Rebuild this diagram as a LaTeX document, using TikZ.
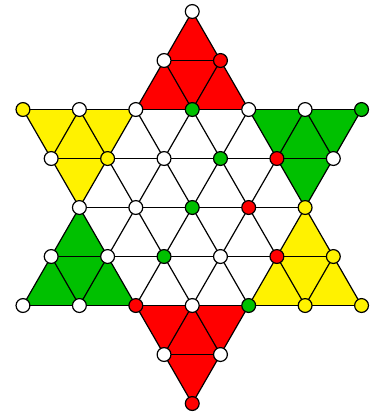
\documentclass[tikz,border=0pt]{standalone}
\usepackage{tikz}
\usetikzlibrary{backgrounds}
\definecolor{boardgreen}{RGB}{0,192,0}

\begin{document}
\begin{tikzpicture}
	[x=21.19pt,y=36.8pt,
	 hole/.style={circle,draw=black,line width=0.9pt,inner sep=0pt,minimum size=10.4pt,fill=white},
	 redhole/.style={hole,fill=red},
	 greenhole/.style={hole,fill=boardgreen},
	 yellowhole/.style={hole,fill=yellow},
	 grid/.style={line width=0.9pt}]
	\useasboundingbox (-6.814,0.235) rectangle (6.531,-8.316);

	% holes, row by row from the top
	\node[hole] (a0) at (0,0) {};
	\node[hole] (b1) at (-1,-1) {};
	\node[redhole] (b2) at (1,-1) {};
	\node[yellowhole] (c1) at (-6,-2) {};
	\node[hole] (c2) at (-4,-2) {};
	\node[hole] (c3) at (-2,-2) {};
	\node[greenhole] (c4) at (0,-2) {};
	\node[hole] (c5) at (2,-2) {};
	\node[hole] (c6) at (4,-2) {};
	\node[greenhole] (c7) at (6,-2) {};
	\node[hole] (d1) at (-5,-3) {};
	\node[yellowhole] (d2) at (-3,-3) {};
	\node[hole] (d3) at (-1,-3) {};
	\node[greenhole] (d4) at (1,-3) {};
	\node[redhole] (d5) at (3,-3) {};
	\node[hole] (d6) at (5,-3) {};
	\node[hole] (e1) at (-4,-4) {};
	\node[hole] (e2) at (-2,-4) {};
	\node[greenhole] (e3) at (0,-4) {};
	\node[redhole] (e4) at (2,-4) {};
	\node[yellowhole] (e5) at (4,-4) {};
	\node[hole] (f1) at (-5,-5) {};
	\node[hole] (f2) at (-3,-5) {};
	\node[greenhole] (f3) at (-1,-5) {};
	\node[hole] (f4) at (1,-5) {};
	\node[redhole] (f5) at (3,-5) {};
	\node[yellowhole] (f6) at (5,-5) {};
	\node[hole] (g1) at (-6,-6) {};
	\node[hole] (g2) at (-4,-6) {};
	\node[redhole] (g3) at (-2,-6) {};
	\node[hole] (g4) at (0,-6) {};
	\node[greenhole] (g5) at (2,-6) {};
	\node[yellowhole] (g6) at (4,-6) {};
	\node[yellowhole] (g7) at (6,-6) {};
	\node[hole] (h1) at (-1,-7) {};
	\node[hole] (h2) at (1,-7) {};
	\node[redhole] (i1) at (0,-8) {};

	\begin{scope}[on background layer]
	% coloured corners of the star
	\fill[red] (a0.center) -- (c3.center) -- (c5.center) -- cycle;
	\fill[red] (g3.center) -- (g5.center) -- (i1.center) -- cycle;
	\fill[yellow] (c1.center) -- (c3.center) -- (e1.center) -- cycle;
	\fill[yellow] (e5.center) -- (g5.center) -- (g7.center) -- cycle;
	\fill[boardgreen] (c5.center) -- (c7.center) -- (e5.center) -- cycle;
	\fill[boardgreen] (e1.center) -- (g1.center) -- (g3.center) -- cycle;

	% horizontal lines
	\draw[grid] (b1.center) -- (b2.center);
	\draw[grid] (c1.center) -- (c7.center);
	\draw[grid] (d1.center) -- (d6.center);
	\draw[grid] (e1.center) -- (e5.center);
	\draw[grid] (f1.center) -- (f6.center);
	\draw[grid] (g1.center) -- (g7.center);
	\draw[grid] (h1.center) -- (h2.center);

	% lines falling to the right
	\draw[grid] (a0.center) -- (g7.center);
	\draw[grid] (b1.center) -- (g6.center);
	\draw[grid] (c3.center) -- (g5.center);
	\draw[grid] (c2.center) -- (h2.center);
	\draw[grid] (c1.center) -- (i1.center);
	\draw[grid] (c6.center) -- (d6.center);
	\draw[grid] (f1.center) -- (g2.center);

	% lines falling to the left
	\draw[grid] (a0.center) -- (g1.center);
	\draw[grid] (b2.center) -- (g2.center);
	\draw[grid] (c5.center) -- (g3.center);
	\draw[grid] (c6.center) -- (h1.center);
	\draw[grid] (c7.center) -- (i1.center);
	\draw[grid] (c2.center) -- (d1.center);
	\draw[grid] (f6.center) -- (g6.center);
	\end{scope}

\end{tikzpicture}
\end{document}
